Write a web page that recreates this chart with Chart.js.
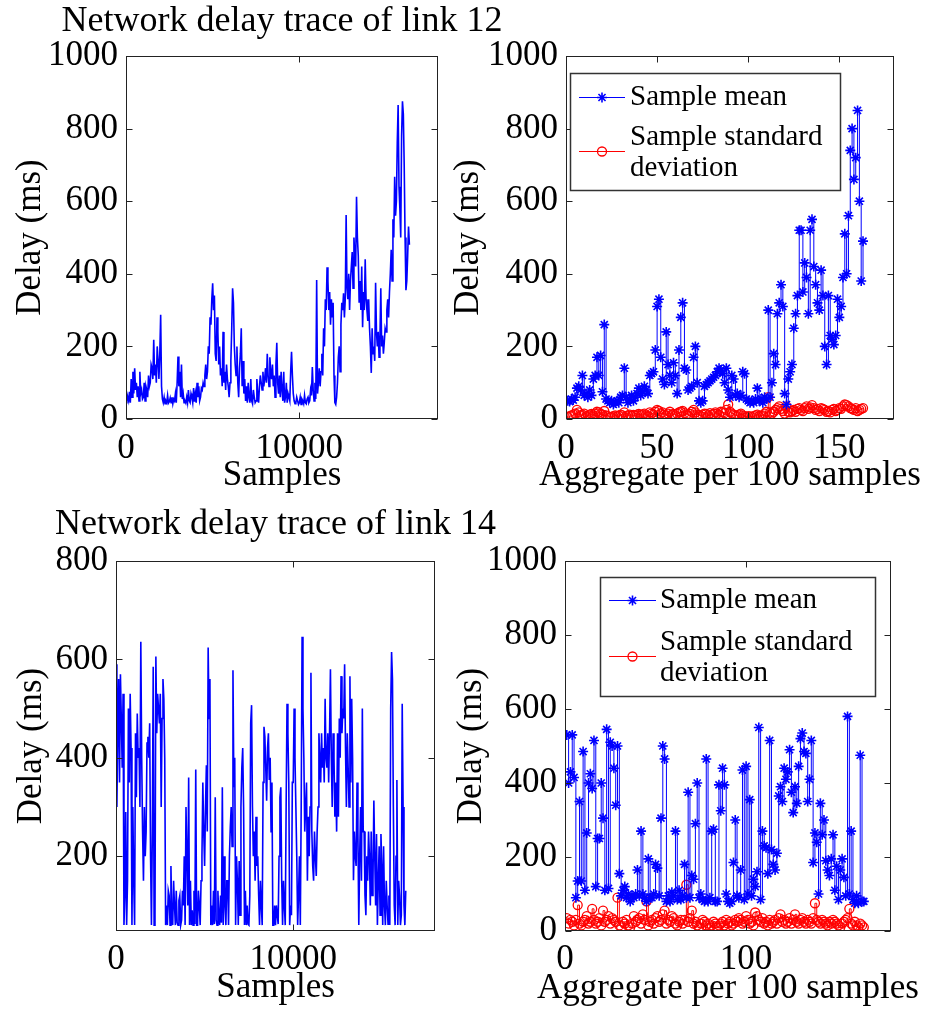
<!DOCTYPE html>
<html>
<head>
<meta charset="utf-8">
<script src="https://cdn.jsdelivr.net/npm/chart.js@4.4.1/dist/chart.umd.min.js"></script>
<style>
  body { margin: 0; background: #fff; width: 931px; height: 1011px; position: relative; overflow: hidden; }
  canvas { position: absolute; }
</style>
</head>
<body>
<canvas id="raw12" width="540" height="500" style="left:0;top:0"></canvas>
<canvas id="agg12" width="511" height="500" style="left:420px;top:0"></canvas>
<canvas id="raw14" width="540" height="511" style="left:0;top:500px"></canvas>
<canvas id="agg14" width="511" height="511" style="left:420px;top:500px"></canvas>
<script>
// raw traces: one value every 50 samples
const rawStep = 50;
const link12Raw = [
  45,70, 60,50, 75,45, 110,60, 130,70, 140,80, 100,60, 90,50, 130,70, 80,55,
  60,100, 50,90, 80,60, 120,90, 100,150, 140,110, 218,120, 150,100, 200,160, 110,180,
  287,90, 55,45, 60,42, 50,45, 65,44, 48,58, 45,60, 42,55, 50,70, 45,100,
  172,90, 130,60, 150,55, 70,45, 50,44, 60,45, 80,50, 45,70, 60,45, 85,48,
  70,45, 100,60, 90,50, 60,85, 80,100, 90,120, 150,110, 130,200, 180,280, 260,330,
  374,300, 340,180, 160,280, 240,150, 200,120, 140,90, 240,100, 130,80, 150,110, 90,60,
  100,160, 250,360, 320,200, 150,120, 200,100, 60,140, 180,250, 90,160, 70,110, 50,90,
  45,100, 60,45, 110,50, 42,80, 60,45, 50,110, 70,45, 90,120, 100,80, 130,90,
  110,140, 100,180, 120,90, 170,130, 110,150, 90,120, 60,150, 210,100, 70,120, 60,130,
  80,50, 130,45, 60,100, 45,70, 60,50, 130,185, 120,70, 50,42, 45,60, 50,40,
  45,60, 40,55, 50,42, 65,45, 42,55, 60,45, 50,80, 65,143, 80,50, 100,55,
  383,70, 100,140, 90,130, 180,120, 250,200, 330,300, 418,380, 300,350, 260,330, 280,320,
  120,45, 40,60, 100,170, 200,130, 260,320, 300,346, 280,330, 562,360, 330,400, 300,380,
  420,460, 360,500, 450,420, 612,500, 450,320, 380,300, 420,253, 350,300, 440,330, 300,270,
  330,250, 200,127, 250,180, 200,160, 375,240, 200,240, 170,220, 360,200, 230,180, 210,250,
  240,300, 330,280, 350,400, 466,380, 550,500, 667,560, 600,760, 865,640, 579,500, 780,875,
  840,700, 500,355, 380,450, 530,480
];
const link14Raw = [
  590,300, 450,560, 350,570, 480,380, 530,60, 120,290, 60,150, 500,350, 530,420, 60,300,
  150,60, 450,320, 490,400, 420,300, 636,400, 250,150, 300,200, 250,430, 443,400, 470,200,
  60,250, 585,60, 80,606, 450,530, 500,470, 530,300, 480,560, 520,400, 60,100, 60,130,
  120,60, 180,70, 60,150, 100,60, 130,65, 60,110, 120,60, 70,130, 100,200, 60,300,
  300,100, 360,60, 150,60, 90,60, 130,62, 376,60, 60,130, 100,60, 150,200, 350,250,
  180,300, 385,250, 624,480, 560,60, 100,60, 130,62, 320,70, 60,130, 80,60, 120,65,
  340,60, 200,100, 60,150, 150,60, 200,260, 300,220, 578,340, 400,60, 200,150, 60,190,
  80,300, 380,420, 300,60, 130,60, 100,62, 60,120, 470,507, 300,200, 250,150, 280,180,
  200,120, 60,150, 100,60, 350,463, 443,380, 313,420, 450,355, 400,250, 350,60, 60,100,
  60,100, 80,62, 200,320, 340,150, 60,150, 100,60, 300,510, 450,350, 60,100, 80,350,
  350,500, 400,300, 200,60, 120,200, 60,300, 646,500, 400,250, 300,350, 150,280, 200,300,
  573,250, 180,150, 250,200, 160,250, 300,450, 400,350, 450,380, 420,350, 520,400, 380,450,
  350,450, 580,400, 300,450, 400,280, 350,250, 450,280, 480,400, 566,450, 500,480, 590,420,
  300,450, 380,300, 566,350, 520,400, 151,250, 200,180, 350,250, 60,200, 300,150, 500,250,
  250,120, 80,200, 150,250, 200,100, 250,120, 150,313, 200,100, 245,60, 150,220, 80,245,
  180,60, 220,100, 60,150, 100,62, 120,60, 500,615, 560,300, 100,60, 200,355, 60,150,
  120,60, 80,510, 300,100, 60,130
];

// per-100-sample aggregates (x = 1, 2, 3 ...)
const link12Mean = [
  50,48,55,52,60,85,90,80,120,65,70,60,80,65,110,120,170,120,175,75,
  260,55,50,45,50,40,45,50,45,60,65,140,60,45,55,65,50,60,70,85,
  65,75,90,80,70,120,125,130,190,310,330,170,110,95,240,150,120,100,155,120,
  70,190,280,320,140,135,80,85,90,170,200,100,50,45,50,90,95,100,105,110,
  115,120,130,140,135,125,100,140,80,60,120,110,65,70,60,65,130,125,55,50,
  45,50,45,55,85,50,55,45,60,55,300,60,100,180,150,290,320,370,310,70,
  40,110,130,150,250,290,340,520,520,350,430,390,290,520,550,420,370,320,300,410,
  340,200,150,340,230,220,205,230,330,280,310,390,510,400,560,740,800,660,720,850,
  600,380,490
];
const link12Std = [
  5,8,10,12,15,25,18,10,12,15,8,10,12,14,10,15,20,18,15,12,
  22,10,8,5,6,8,10,7,9,12,10,18,8,10,12,9,11,10,12,14,
  10,12,15,10,8,18,15,12,20,25,22,15,18,12,10,15,20,12,14,10,
  15,18,20,22,16,12,10,14,20,25,18,12,10,8,12,15,14,10,16,12,
  14,18,15,12,20,18,16,25,40,20,15,12,10,8,12,15,10,8,6,8,
  7,6,8,10,12,8,9,10,15,20,60,18,15,20,25,30,35,28,22,15,
  35,20,18,22,25,20,28,30,25,22,30,35,28,32,38,30,25,28,22,30,
  28,25,20,22,18,25,28,22,25,30,28,35,40,38,35,30,28,25,30,22,
  25,28,30
];
const link14Mean = [
  530,400,430,530,415,90,135,350,135,485, 110,265,400,425,385,515,120,250,250,400,
  305,110,545,115,510,500,440,340,500,155, 95,110,120,90,100,80,95,90,100,165,
  95,270,100,90,80,195,90,90,100,180, 170,95,305,500,465,80,95,80,105,95,
  270,85,110,85,95,180,90,375,90,150, 140,290,400,90,100,85,80,465,80,90,
  270,275,80,80,395,325,440,395,100,80, 75,80,185,300,95,90,165,435,85,445,
  100,355,95,140,120,160,550,85,270,230, 225,155,515,220,180,165,210,365,390,350,
  440,410,430,490,375,320,390,345,445,520, 535,485,480,350,410,515,185,265,240,100,
  345,260,300,190,165,150,195,260,110,175, 85,165,195,145,95,580,100,270,85,75,
  95,75,475,80,80
];
const link14Std = [
  35,20,30,25,15,30,70,20,15,25,30,40,20,25,60,30,20,25,35,15,
  55,25,30,40,20,35,30,25,90,15,10,25,20,30,15,10,20,40,25,30,
  35,20,45,30,80,15,25,30,20,35,40,25,30,45,55,20,30,25,40,35,
  20,15,25,30,20,30,125,25,35,55,20,25,15,10,20,30,25,15,20,10,
  15,25,20,10,15,20,25,15,30,20,25,15,20,30,25,35,30,20,25,40,
  30,20,25,15,50,40,30,25,35,20,25,15,30,20,25,30,20,35,45,25,
  30,20,25,35,20,30,45,25,20,30,35,25,20,30,25,20,35,75,30,25,
  20,30,25,20,15,25,20,30,25,20,15,10,20,25,30,35,60,20,15,25,
  15,10,20,15,10
];

const rawXTicks = [0, 10000];
const agg12XTicks = [0, 50, 100, 150];
const agg14XTicks = [0, 100];
const delayTicks1000 = [0, 200, 400, 600, 800, 1000];
const delayTicks800 = [200, 400, 600, 800];

const serif = '"Liberation Serif", "Times New Roman", Times, serif';
Chart.defaults.font.family = serif;
Chart.defaults.color = '#000';

const BLUE = '#0000ff';
const RED = '#ff0000';

// box, inward ticks, subplot title, x label and an in-axes legend (MATLAB look)
const matlabAxes = {
  id: 'matlabAxes',
  afterDatasetsDraw(chart, args, opts) {
    const {ctx, chartArea: a, scales: {x, y}} = chart;
    const l = Math.round(a.left) + 0.5, r = Math.round(a.right) - 0.5;
    const t = Math.round(a.top) + 0.5, b = Math.round(a.bottom) - 0.5;
    ctx.save();
    ctx.strokeStyle = '#222';
    ctx.lineWidth = 1;
    ctx.strokeRect(l, t, r - l, b - t);
    ctx.beginPath();
    x.ticks.forEach(tk => {
      const px = Math.round(x.getPixelForValue(tk.value)) + 0.5;
      ctx.moveTo(px, b); ctx.lineTo(px, b - 6);
      ctx.moveTo(px, t); ctx.lineTo(px, t + 6);
    });
    y.ticks.forEach(tk => {
      const py = Math.round(y.getPixelForValue(tk.value)) + 0.5;
      ctx.moveTo(l, py); ctx.lineTo(l + 6, py);
      ctx.moveTo(r, py); ctx.lineTo(r - 6, py);
    });
    ctx.stroke();

    ctx.fillStyle = '#000';
    ctx.textAlign = 'center';
    ctx.textBaseline = 'middle';
    const cx = (a.left + a.right) / 2;
    if (opts.title) {
      ctx.font = '36px ' + serif;
      ctx.fillText(opts.title, cx, opts.titleY);
    }
    if (opts.xLabel) {
      ctx.font = '35px ' + serif;
      ctx.fillText(opts.xLabel, cx, opts.xLabelY);
    }

    const lg = opts.legend;
    if (lg) {
      ctx.fillStyle = '#fff';
      ctx.fillRect(lg.x, lg.y, lg.w, lg.h);
      ctx.strokeStyle = '#333';
      ctx.lineWidth = 1.5;
      ctx.strokeRect(lg.x + 0.5, lg.y + 0.5, lg.w, lg.h);
      lg.entries.forEach(e => {
        const ds = chart.data.datasets[e.dataset];
        ctx.strokeStyle = ds.borderColor;
        ctx.lineWidth = 1;
        ctx.beginPath();
        ctx.moveTo(lg.lineX1, e.markerY + 0.5);
        ctx.lineTo(lg.lineX2, e.markerY + 0.5);
        ctx.stroke();
        ctx.strokeStyle = ds.pointBorderColor;
        ctx.fillStyle = 'rgba(0,0,0,0)';
        ctx.lineWidth = ds.pointBorderWidth;
        Chart.helpers.drawPoint(ctx, {
          pointStyle: ds.pointStyle, radius: ds.pointRadius,
          borderWidth: ds.pointBorderWidth, rotation: 0
        }, (lg.lineX1 + lg.lineX2) / 2, e.markerY + 0.5);
        ctx.fillStyle = '#000';
        ctx.textAlign = 'left';
        ctx.font = '29px ' + serif;
        e.lines.forEach(([txt, ty]) => ctx.fillText(txt, lg.textX, ty));
      });
    }
    ctx.restore();
  }
};

function makeChart(id, o) {
  const canvas = document.getElementById(id);
  const W = canvas.width, H = canvas.height;
  const [L, T, R, B] = o.area;
  const tickFont = {size: 35};
  return new Chart(canvas, {
    type: 'line',
    data: {datasets: o.datasets},
    options: {
      responsive: false,
      animation: false,
      devicePixelRatio: 1,
      events: [],
      layout: {padding: {left: 0, top: T, right: W - R, bottom: 0}},
      plugins: {
        legend: {display: false},
        tooltip: {enabled: false},
        matlabAxes: {title: o.title, titleY: o.titleY, xLabel: o.xLabel, xLabelY: o.xLabelY, legend: o.legend}
      },
      scales: {
        x: {
          type: 'linear', min: o.xMin, max: o.xMax,
          grid: {display: false}, border: {display: false},
          ticks: {font: tickFont, padding: o.xTickPad, autoSkip: false, maxRotation: 0, callback: v => String(v)},
          afterBuildTicks: s => { s.ticks = o.xTicks.map(v => ({value: v})); },
          afterFit: s => { s.height = H - B; }
        },
        y: {
          type: 'linear', min: o.yMin, max: o.yMax,
          grid: {display: false}, border: {display: false},
          ticks: {font: tickFont, padding: o.yTickPad, autoSkip: false, callback: v => String(v)},
          afterBuildTicks: s => { s.ticks = o.yTicks.map(v => ({value: v})); },
          afterFit: s => { s.width = L; },
          title: {display: true, text: 'Delay (ms)', font: {size: 35}, padding: {top: o.yTitlePad, bottom: 0}}
        }
      }
    },
    plugins: [matlabAxes]
  });
}

function rawSet(values) {
  return {
    data: values.map((v, i) => ({x: i * rawStep, y: v})),
    borderColor: BLUE, borderWidth: 1.6, pointRadius: 0, fill: false
  };
}
function meanSet(values) {
  return {
    data: values.map((v, i) => ({x: i + 1, y: v})),
    borderColor: BLUE, borderWidth: 1, stepped: true, fill: false,
    pointStyle: 'star', pointRadius: 5, pointBorderWidth: 1.6,
    pointBorderColor: BLUE, pointBackgroundColor: 'rgba(0,0,0,0)'
  };
}
function stdSet(values) {
  return {
    data: values.map((v, i) => ({x: i + 1, y: v})),
    borderColor: RED, borderWidth: 1, stepped: true, fill: false,
    pointStyle: 'circle', pointRadius: 4.5, pointBorderWidth: 1.3,
    pointBorderColor: RED, pointBackgroundColor: 'rgba(0,0,0,0)'
  };
}

makeChart('raw12', {
  area: [126, 56, 438, 419],
  datasets: [rawSet(link12Raw)],
  title: 'Network delay trace of link 12', titleY: 22,
  xLabel: 'Samples', xLabelY: 476,
  xMin: 0, xMax: 18000, xTicks: rawXTicks,
  yMin: 0, yMax: 1000, yTicks: delayTicks1000,
  xTickPad: 1, yTickPad: 0, yTitlePad: 10
});

makeChart('agg12', {
  area: [146, 56, 474, 419],
  datasets: [meanSet(link12Mean), stdSet(link12Std)],
  xLabel: 'Aggregate per 100 samples', xLabelY: 476,
  xMin: 0, xMax: 180, xTicks: agg12XTicks,
  yMin: 0, yMax: 1000, yTicks: delayTicks1000,
  xTickPad: 1, yTickPad: 0, yTitlePad: 28,
  legend: {
    x: 150, y: 73, w: 270, h: 117, lineX1: 159, lineX2: 205, textX: 210,
    entries: [
      {dataset: 0, markerY: 97, lines: [['Sample mean', 97]]},
      {dataset: 1, markerY: 151, lines: [['Sample standard', 137], ['deviation', 168]]}
    ]
  }
});

makeChart('raw14', {
  area: [116, 61, 435, 431],
  datasets: [rawSet(link14Raw)],
  title: 'Network delay trace of link 14', titleY: 25,
  xLabel: 'Samples', xLabelY: 488,
  xMin: 0, xMax: 18000, xTicks: rawXTicks,
  yMin: 48, yMax: 800, yTicks: delayTicks800,
  xTickPad: 0, yTickPad: 0, yTitlePad: 11
});

makeChart('agg14', {
  area: [145, 61, 471, 431],
  datasets: [meanSet(link14Mean), stdSet(link14Std)],
  xLabel: 'Aggregate per 100 samples', xLabelY: 489,
  xMin: 0, xMax: 180, xTicks: agg14XTicks,
  yMin: 0, yMax: 1000, yTicks: delayTicks1000,
  xTickPad: 0, yTickPad: 0, yTitlePad: 31,
  legend: {
    x: 180, y: 77, w: 275, h: 119, lineX1: 189, lineX2: 236, textX: 240,
    entries: [
      {dataset: 0, markerY: 100, lines: [['Sample mean', 100]]},
      {dataset: 1, markerY: 156, lines: [['Sample standard', 142], ['deviation', 173]]}
    ]
  }
});
</script>
</body>
</html>
